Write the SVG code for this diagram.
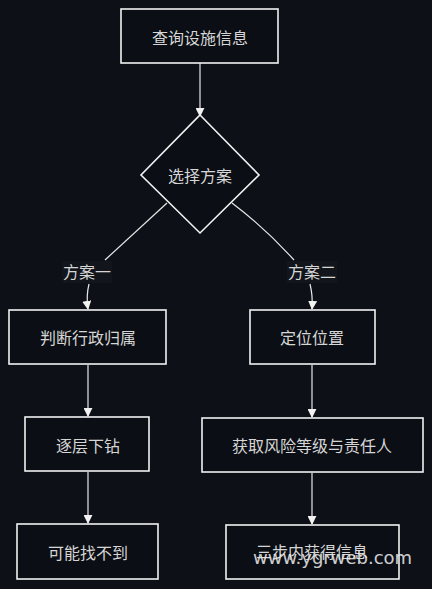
<svg xmlns="http://www.w3.org/2000/svg" width="432" height="589" viewBox="0 0 432 589">
<style>
.box{fill:#0b0e14;stroke:#f2f2f2;stroke-width:1.6}
.t{font-family:"Noto Sans CJK SC","Noto Sans",sans-serif;font-size:16px;fill:#d6d6d6;text-anchor:middle;dominant-baseline:central}
.c{fill:none;stroke:#e8e8e8;stroke-width:1.2}
.lb{fill:#12151b}
</style>
<defs>
<marker id="ah" viewBox="0 0 10 10" refX="9" refY="5" markerWidth="9" markerHeight="9" markerUnits="userSpaceOnUse" orient="auto">
<path d="M0,0 L10,5 L0,10 Z" fill="#f2f2f2"/>
</marker>
</defs>
<rect width="432" height="589" fill="#0d1017"/>
<g id="connectors">
<path class="c" d="M200,63 L200,116" marker-end="url(#ah)"/>
<path class="c" d="M167,203 L105,260"/>
<path class="c" d="M232,203 Q265,228 294,260"/>
<path class="c" d="M89,284 Q86,296 88,309" marker-end="url(#ah)"/>
<path class="c" d="M310,284 Q313,296 312,309" marker-end="url(#ah)"/>
<path class="c" d="M88,365 L88,416" marker-end="url(#ah)"/>
<path class="c" d="M88,472 L88,523" marker-end="url(#ah)"/>
<path class="c" d="M312,365 L312,417" marker-end="url(#ah)"/>
<path class="c" d="M312,473 L312,524" marker-end="url(#ah)"/>
</g>
<g id="n1"><rect class="box" x="121" y="9" width="157" height="54"/><text class="t" x="200" y="37">查询设施信息</text></g>
<g id="n2"><path class="box" d="M200,115 L259,175 L200,233 L141,175 Z"/><text class="t" x="200" y="175">选择方案</text></g>
<g id="l1"><rect class="lb" x="62" y="261" width="50" height="22"/><text class="t" x="87" y="271">方案一</text></g>
<g id="l2"><rect class="lb" x="287" y="261" width="50" height="22"/><text class="t" x="312" y="271">方案二</text></g>
<g id="n3"><rect class="box" x="9" y="310" width="157" height="54"/><text class="t" x="88" y="337">判断行政归属</text></g>
<g id="n4"><rect class="box" x="250" y="310" width="125" height="54"/><text class="t" x="312" y="337">定位位置</text></g>
<g id="n5"><rect class="box" x="25" y="417" width="124" height="54"/><text class="t" x="88" y="445">逐层下钻</text></g>
<g id="n6"><rect class="box" x="202" y="418" width="221" height="54"/><text class="t" x="312" y="445">获取风险等级与责任人</text></g>
<g id="n7"><rect class="box" x="17" y="524" width="141" height="55"/><text class="t" x="88" y="552">可能找不到</text></g>
<g id="n8"><rect class="box" x="226" y="525" width="173" height="54"/><text class="t" x="312" y="551">三步内获得信息</text></g>
<text x="253" y="564" font-family="DejaVu Sans,sans-serif" font-size="18" fill="#e6e6e6" fill-opacity="0.9">www.ygrweb.com</text>
</svg>
